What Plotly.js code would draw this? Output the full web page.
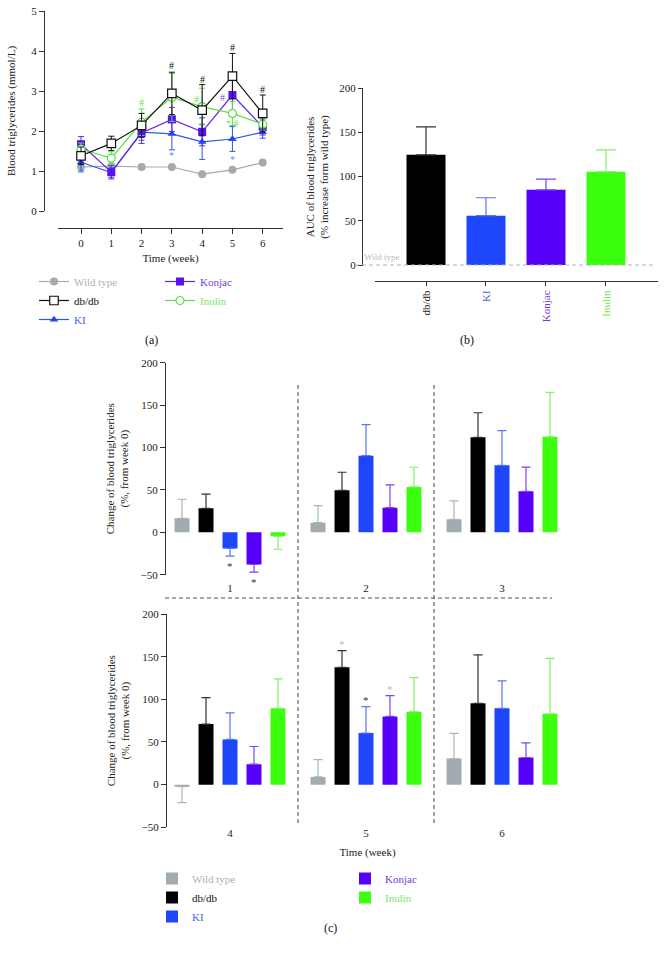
<!DOCTYPE html>
<html><head><meta charset="utf-8">
<script src="https://cdn.plot.ly/plotly-3.0.1.min.js"></script>
<style>html,body{margin:0;padding:0;background:#fff}#chart{width:665px;height:963px}</style>
</head><body><div id="chart"></div>
<script>
// ---------------- DATA ----------------
const groupNames = ['Wild type','db/db','KI','Konjac','Inulin'];

// Panel (a): blood triglycerides (mmol/L) by week
const weeksA = [0,1,2,3,4,5,6];
const tgWild      = [1.10,1.12,1.10,1.10,0.92,1.03,1.21];
const tgWildSem   = [0.13,0.06,0.05,0.05,0.04,0.04,0.05];
const tgDbdb      = [1.38,1.69,2.14,2.94,2.52,3.37,2.44];
const tgDbdbSem   = [0.22,0.18,0.30,0.53,0.64,0.57,0.46];
const tgKI        = [1.22,0.96,1.97,1.93,1.73,1.80,1.97];
const tgKISem     = [0.22,0.12,0.20,0.40,0.44,0.31,0.15];
const tgKonjac    = [1.67,0.97,1.95,2.29,1.98,2.90,2.10];
const tgKonjacSem = [0.19,0.17,0.26,0.30,0.35,0.45,0.20];
const tgInulin    = [1.55,1.32,2.22,2.84,2.61,2.44,2.17];
const tgInulinSem = [0.15,0.16,0.33,0.60,0.46,0.30,0.15];

// significance marks in (a)
const sigAWeek  = [3,4,5,6,2,4,5,5,3,5];
const sigAY     = [3.65,3.30,4.10,3.05,2.72,2.80,2.85,2.18,1.38,1.30];
const sigAText  = ['#','#','#','#','#','#','#','* #','*','*'];
const sigAGroup = [1,1,1,1,4,4,3,4,2,2];

// Panel (b): AUC (% increase from wild type)
const aucGroups = ['db/db','KI','Konjac','Inulin'];
const aucValues = [124.5,55.7,85.0,105.5];
const aucSem    = [31.5,20.3,12.0,24.5];

// Panel (c): change of blood triglycerides (% from week 0)
const changeWeeks = [1,2,3,4,5,6];
const chgWild      = [16.5,11.4,15.4,-2.5,9.0,30.6];
const chgWildSem   = [22.5,20.0,21.6,18.5,20.4,29.4];
const chgDbdb      = [28.3,49.5,112.0,71.0,137.6,95.3];
const chgDbdbSem   = [16.7,21.3,29.0,31.0,19.4,56.7];
const chgKI        = [-19.0,90.4,79.0,53.0,60.4,89.4];
const chgKISem     = [9.0,36.6,41.0,31.0,31.0,32.2];
const chgKonjac    = [-38.0,29.0,48.4,24.0,80.0,31.8];
const chgKonjacSem = [9.0,27.0,28.4,20.7,24.3,17.2];
const chgInulin    = [-4.7,53.5,112.6,89.4,85.5,83.0];
const chgInulinSem = [15.3,23.2,52.4,34.6,40.0,65.0];

// significance stars in (c)
const sigCWeek  = [1,1,5,5,5];
const sigCGroup = [2,3,1,2,3];
const sigCText  = ['*','*','*','*','*'];
const sigCLight = [false,false,true,false,true];

// ---------------- STYLE ----------------
const W = 665, H = 963;
const px = v => v / W;
const py = v => 1 - v / H;
const FONT = '"Liberation Serif", "Times New Roman", serif';
const barColors  = ['#a2acb0','#000000','#1e46fb','#5600f8','#3cff0f'];
const errColors  = ['#aab4b8','#333333','#5a74f2','#7a42f2','#86f070'];
const lineColors = ['#a3abae','#111111','#2e58e6','#6424e6','#5ae046'];
const textColors = ['#aab3b6','#111111','#4466e6','#6f3ae0','#74e864'];
const sigColors  = ['#999999','#111111','#6f88ee','#7a4ae6','#6fe05a'];

const tgMeans = [tgWild,tgDbdb,tgKI,tgKonjac,tgInulin];
const tgSems  = [tgWildSem,tgDbdbSem,tgKISem,tgKonjacSem,tgInulinSem];
const chgMeans = [chgWild,chgDbdb,chgKI,chgKonjac,chgInulin];
const chgSems  = [chgWildSem,chgDbdbSem,chgKISem,chgKonjacSem,chgInulinSem];

const markerSpec = [
  {symbol:'circle', size:8, color:lineColors[0], line:{width:0}},
  {symbol:'square', size:8.5, color:'#ffffff', line:{width:1.2, color:'#111111'}},
  {symbol:'triangle-up', size:7.5, color:'#1e46fb', line:{width:0}},
  {symbol:'square', size:8, color:'#5a10f0', line:{width:0}},
  {symbol:'circle', size:8, color:'#ffffff', line:{width:1.2, color:lineColors[4]}}
];
const drawOrder = [0,2,3,4,1];
const span = (t,c) => '<span style="color:' + c + '">' + t + '</span>';

const traces = [];
// Panel (a)
drawOrder.forEach(g => {
  traces.push({
    type:'scatter', mode:'lines+markers', x:weeksA, y:tgMeans[g],
    name: span(groupNames[g], textColors[g]),
    legend: g < 3 ? 'legend' : 'legend2', legendrank: g,
    line:{color:lineColors[g], width:1.2},
    marker: markerSpec[g],
    error_y:{type:'data', array:tgSems[g], color:lineColors[g], thickness:1, width:3},
    xaxis:'x', yaxis:'y', cliponaxis:false
  });
});
// Panel (b)
aucGroups.forEach((g,i) => {
  traces.push({
    type:'bar', x:[g], y:[aucValues[i]], xaxis:'x2', yaxis:'y2',
    offsetgroup:'auc', width:0.65, showlegend:false,
    marker:{color:barColors[i+1], line:{width:0}},
    error_y:{type:'data', symmetric:false, array:[aucSem[i]], arrayminus:[0],
             color:errColors[i+1], thickness:1.2, width:10}
  });
});
// Panel (c)
const bargap = 0.118, bargroupgap = 0.375;
[0,1].forEach(half => {
  const idx = half === 0 ? [0,1,2] : [3,4,5];
  for (let g = 0; g < 5; g++) {
    const m = idx.map(i => chgMeans[g][i]);
    const s = idx.map(i => chgSems[g][i]);
    traces.push({
      type:'bar', x: idx.map(i => changeWeeks[i]), y:m,
      xaxis: half === 0 ? 'x3' : 'x4', yaxis: half === 0 ? 'y3' : 'y4',
      name: span(groupNames[g], textColors[g]),
      legend: g < 3 ? 'legend3' : 'legend4', legendrank: g,
      showlegend: half === 0,
      marker:{color:barColors[g], line:{width:0}},
      error_y:{type:'data', symmetric:false,
               array: m.map((v,k) => v >= 0 ? s[k] : 0),
               arrayminus: m.map((v,k) => v < 0 ? s[k] : 0),
               color:errColors[g], thickness:1.2, width:4.5}
    });
  }
});

// annotations
const annotations = [];
const lab = (t,x,y) => annotations.push({text:t, x:px(x), y:py(y), xref:'paper', yref:'paper', showarrow:false, font:{family:FONT, size:12, color:'#111'}});
lab('(a)',143,340); lab('(b)',476,340); lab('(c)',330,937);
annotations.push({text:'Wild type', x:px(362), y:py(264), xref:'paper', yref:'paper', xanchor:'left', yanchor:'bottom', showarrow:false, font:{family:FONT, size:9, color:'#b5bcbf'}});
sigAWeek.forEach((w,i) => {
  annotations.push({text:sigAText[i], x:w, y:sigAY[i], xref:'x', yref:'y', showarrow:false,
    xshift: (sigAText[i]==='#' && sigAGroup[i]!==1 && w>=4) ? (sigAGroup[i]===3 ? -10 : -6) : 0,
    font:{family:FONT, size:10, color:sigColors[sigAGroup[i]]}});
});
const slot = (1 - bargap) / 5;
sigCWeek.forEach((w,i) => {
  const k = changeWeeks.indexOf(w), g = sigCGroup[i];
  const v = chgMeans[g][k], s = chgSems[g][k];
  const top = w <= 3;
  annotations.push({text:sigCText[i], x: w + (g-2)*slot, y: v >= 0 ? v + s : v - s,
    xref: top ? 'x3':'x4', yref: top ? 'y3':'y4', showarrow:false,
    yanchor: v >= 0 ? 'bottom' : 'top', yshift: v >= 0 ? -1 : -2,
    font:{family:FONT, size:11, color: sigCLight[i] ? '#b5bcbf' : '#333'}});
});

// shapes
const shapes = [
  {type:'line', xref:'paper', yref:'y2', x0:px(355), x1:px(653), y0:0, y1:0, line:{color:'#aab2b5', width:1, dash:'4px,3px'}},
  {type:'line', xref:'x3', yref:'paper', x0:1.5, x1:1.5, y0:py(385), y1:py(825), line:{color:'#444', width:1, dash:'4px,3px'}},
  {type:'line', xref:'x3', yref:'paper', x0:2.5, x1:2.5, y0:py(385), y1:py(825), line:{color:'#444', width:1, dash:'4px,3px'}},
  {type:'line', xref:'paper', yref:'paper', x0:px(165), x1:px(552), y0:py(598), y1:py(598), line:{color:'#555', width:1, dash:'4px,3px'}}
];

const tickFont = {family:FONT, size:11, color:'#222'};
const titleFont = {family:FONT, size:11, color:'#222'};
const baseAx = {showgrid:false, zeroline:false, showline:true, linecolor:'#333', linewidth:1,
  ticks:'outside', ticklen:5, tickcolor:'#333', tickwidth:1, tickfont:tickFont};

const legendBase = {font:{family:FONT, size:11, color:'#222'}, bgcolor:'rgba(0,0,0,0)',
  xanchor:'left', yanchor:'top', tracegroupgap:0, traceorder:'normal'};

const layout = {
  width:W, height:H, margin:{l:0,r:0,t:0,b:0}, paper_bgcolor:'#fff', plot_bgcolor:'rgba(0,0,0,0)',
  font:{family:FONT, size:11, color:'#222'},
  barmode:'group', bargap:bargap, bargroupgap:bargroupgap,
  xaxis: Object.assign({}, baseAx, {domain:[px(58),px(283)], range:[-0.76,6.67], anchor:'free', position:py(228),
    tickvals:weeksA, title:{text:'Time (week)', font:titleFont, standoff:6}}),
  yaxis: Object.assign({}, baseAx, {domain:[py(211),py(11)], range:[0,5], anchor:'free', position:px(44),
    tickvals:[0,1,2,3,4,5], title:{text:'Blood triglycerides (mmol/L)', font:titleFont, standoff:12}}),
  xaxis2: Object.assign({}, baseAx, {domain:[px(375),px(658)], range:[-0.85,3.867], anchor:'free', position:py(281),
    type:'category', categoryorder:'array', categoryarray:aucGroups, ticklen:4, tickangle:-90,
    tickvals:aucGroups, ticktext:aucGroups.map((g,i) => span(g, textColors[i+1]))}),
  yaxis2: Object.assign({}, baseAx, {domain:[py(265.9),py(88)], range:[-1,200], anchor:'free', position:px(362),
    tickvals:[0,50,100,150,200], ticklen:4,
    title:{text:'AUC of blood triglycerides<br>(% increase form wild type)', font:titleFont, standoff:7}}),
  xaxis3: Object.assign({}, baseAx, {domain:[px(165),px(570)], range:[0.522,3.5], anchor:'free', position:py(580),
    showline:false, ticks:'', tickvals:[1,2,3]}),
  yaxis3: Object.assign({}, baseAx, {domain:[py(574.7),py(362.7)], range:[-50,200], anchor:'free', position:px(165),
    tickvals:[-50,0,50,100,150,200],
    title:{text:'Change of blood triglycerides<br>(%, from week 0)', font:titleFont, standoff:8}}),
  xaxis4: Object.assign({}, baseAx, {domain:[px(165),px(570)], range:[3.522,6.5], anchor:'free', position:py(825),
    showline:false, ticks:'', tickvals:[4,5,6], title:{text:'Time (week)', font:titleFont, standoff:10}}),
  yaxis4: Object.assign({}, baseAx, {domain:[py(827.3),py(614)], range:[-50,200], anchor:'free', position:px(166),
    tickvals:[-50,0,50,100,150,200],
    title:{text:'Change of blood triglycerides<br>(%, from week 0)', font:titleFont, standoff:8}}),
  legend:  Object.assign({}, legendBase, {x:px(34),  y:py(267)}),
  legend2: Object.assign({}, legendBase, {x:px(160), y:py(267)}),
  legend3: Object.assign({}, legendBase, {x:px(152), y:py(864)}),
  legend4: Object.assign({}, legendBase, {x:px(345), y:py(864)}),
  annotations: annotations,
  shapes: shapes,
  showlegend: true
};

Plotly.newPlot('chart', traces, layout, {staticPlot:true, displayModeBar:false});
</script>
</body></html>
